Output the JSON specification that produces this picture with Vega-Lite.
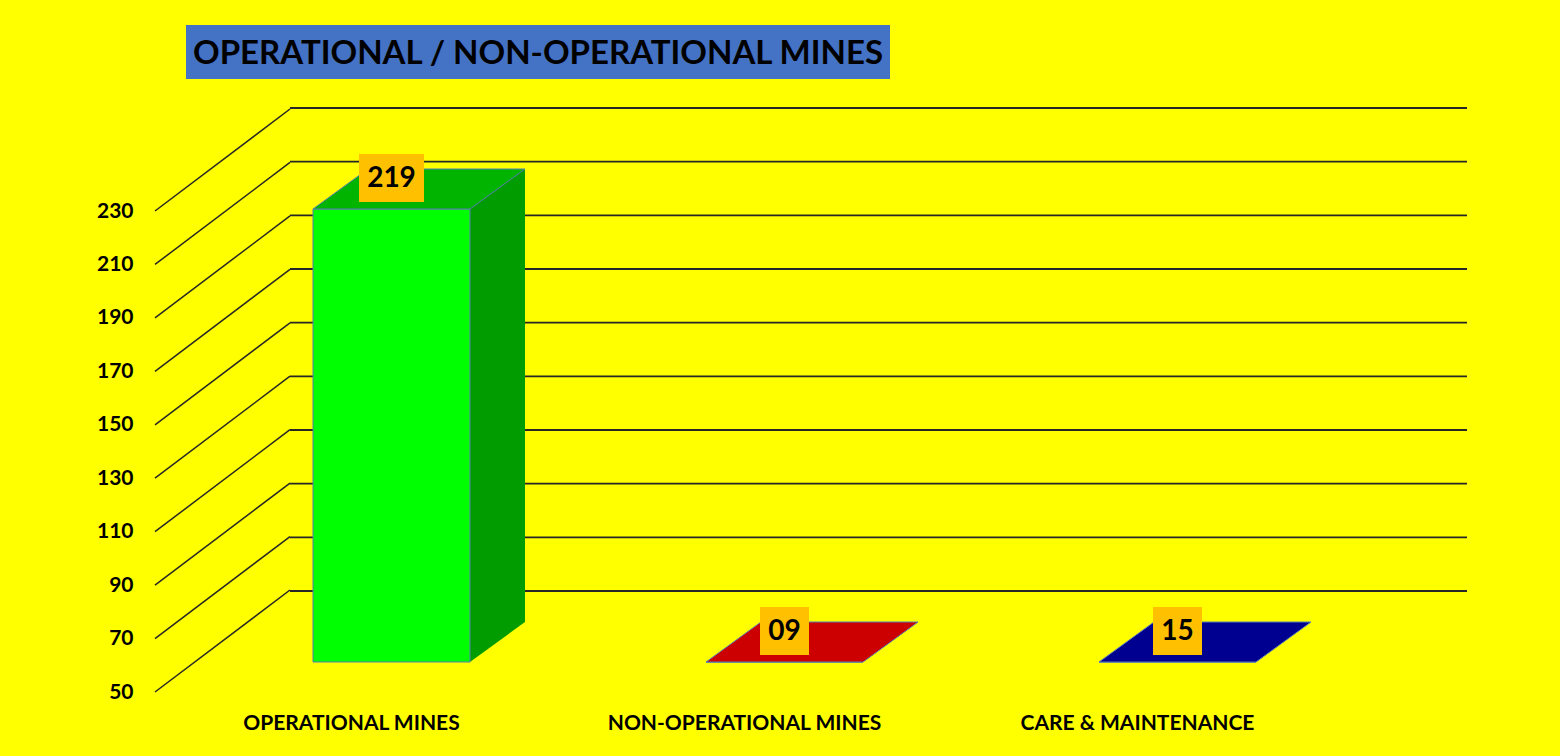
{
  "$schema": "https://vega.github.io/schema/vega-lite/v6.json",
  "background": "#FFFF00",
  "padding": {"left": 96, "top": 25, "right": 93, "bottom": 24},
  "config": {"view": {"stroke": null}, "font": "Lato"},
  "datasets": {
    "mines": [
      {"category": "OPERATIONAL MINES", "value": 219, "label": "219"},
      {"category": "NON-OPERATIONAL MINES", "value": 9, "label": "09"},
      {"category": "CARE & MAINTENANCE", "value": 15, "label": "15"}
    ],
    "ticks": [
      {"v": 50}, {"v": 70}, {"v": 90}, {"v": 110}, {"v": 130},
      {"v": 150}, {"v": 170}, {"v": 190}, {"v": 210}, {"v": 230}
    ]
  },
  "spacing": 29,
  "bounds": "flush",
  "vconcat": [
    {
      "width": 704,
      "height": 54,
      "view": {"fill": "#4472C4", "stroke": null},
      "data": {"values": [{}]},
      "mark": {
        "type": "text",
        "text": "OPERATIONAL / NON-OPERATIONAL MINES",
        "font": "Lato",
        "fontWeight": "bold",
        "fontSize": 33,
        "color": "#000000",
        "align": "center",
        "baseline": "middle",
        "dy": 2
      }
    },
    {
      "width": 1281,
      "height": 584,
      "resolve": {
        "scale": {"x": "independent", "y": "independent"},
        "axis": {"x": "independent", "y": "independent"}
      },
      "layer": [
        {
          "data": {"name": "ticks"},
          "mark": {"type": "rule", "color": "#262626", "strokeWidth": 1.8},
          "encoding": {
            "x": {"datum": 0, "type": "quantitative", "scale": {"domain": [0, 1], "range": [104, 1281]}, "axis": null},
            "x2": {"datum": 1},
            "y": {"field": "v", "type": "quantitative", "scale": {"domain": [50, 230], "range": [483, 0]}, "axis": null}
          }
        },
        {
          "data": {"name": "ticks"},
          "mark": {"type": "point", "shape": "M0,0L135,-102", "size": 4, "filled": false, "stroke": "#262626", "strokeWidth": 1.5, "opacity": 1},
          "encoding": {
            "x": {"datum": 0, "type": "quantitative", "scale": {"domain": [0, 1], "range": [-31, 0]}, "axis": null},
            "y": {
              "field": "v", "type": "quantitative",
              "scale": {"domain": [50, 230], "range": [584, 103]},
              "axis": {
                "values": [50, 70, 90, 110, 130, 150, 170, 190, 210, 230],
                "offset": 50, "labelPadding": 3, "ticks": false, "domain": false, "grid": false, "title": null,
                "labelFont": "Lato", "labelFontWeight": "bold", "labelFontSize": 21, "labelColor": "#000000"
              }
            }
          }
        },
        {
          "data": {"name": "mines"},
          "resolve": {"scale": {"fill": "independent", "shape": "independent"}},
          "encoding": {
            "x": {
              "field": "category", "type": "nominal",
              "scale": {"domain": ["OPERATIONAL MINES", "NON-OPERATIONAL MINES", "CARE & MAINTENANCE"], "range": [9, 1188], "paddingInner": 0, "paddingOuter": 0},
              "axis": {
                "title": null, "ticks": false, "domain": false, "labelAngle": 0, "labelOffset": -40,
                "labelPadding": 31, "labelBaseline": "middle", "labelLimit": 500,
                "labelFont": "Lato", "labelFontWeight": "bold", "labelFontSize": 21, "labelColor": "#000000"
              }
            },
            "y": {
              "field": "value", "type": "quantitative",
              "scale": {"domain": [50, 230], "range": [554, 71.5], "clamp": true, "zero": false, "nice": false},
              "axis": null
            }
          },
          "layer": [
            {
              "mark": {"type": "bar", "width": 157, "xOffset": 55, "yOffset": -40, "y2Offset": -40},
              "encoding": {
                "y2": {"datum": 50},
                "fill": {"field": "category", "type": "nominal", "scale": {"domain": ["OPERATIONAL MINES", "NON-OPERATIONAL MINES", "CARE & MAINTENANCE"], "range": ["#009C00", "#8A0000", "#000060"]}, "legend": null}
              }
            },
            {
              "mark": {"type": "point", "shape": "M78.5,0L133.5,-40L78.5,-40Z", "size": 4, "filled": true, "opacity": 1, "strokeWidth": 0},
              "encoding": {
                "y": {"datum": 50, "type": "quantitative"},
                "fill": {"field": "category", "type": "nominal", "scale": {"domain": ["OPERATIONAL MINES", "NON-OPERATIONAL MINES", "CARE & MAINTENANCE"], "range": ["#009C00", "#8A0000", "#000060"]}, "legend": null}
              }
            },
            {
              "mark": {"type": "bar", "width": 157, "stroke": "#5B7DB1", "strokeWidth": 1},
              "encoding": {
                "y2": {"datum": 50},
                "fill": {"field": "category", "type": "nominal", "scale": {"domain": ["OPERATIONAL MINES", "NON-OPERATIONAL MINES", "CARE & MAINTENANCE"], "range": ["#00FF00", "#CC0000", "#000090"]}, "legend": null}
              }
            },
            {
              "mark": {"type": "point", "shape": "M-78.5,0L78.5,0L133.5,-40L-23.5,-40Z", "size": 4, "filled": true, "opacity": 1, "stroke": "#5B7DB1", "strokeWidth": 1},
              "encoding": {
                "fill": {"field": "category", "type": "nominal", "scale": {"domain": ["OPERATIONAL MINES", "NON-OPERATIONAL MINES", "CARE & MAINTENANCE"], "range": ["#00B400", "#CC0000", "#000090"]}, "legend": null}
              }
            },
            {
              "mark": {"type": "point", "size": 4, "filled": true, "opacity": 1, "strokeWidth": 0, "fill": "#FFC000", "yOffset": -31},
              "encoding": {
                "shape": {"field": "category", "type": "nominal", "scale": {"domain": ["OPERATIONAL MINES", "NON-OPERATIONAL MINES", "CARE & MAINTENANCE"], "range": ["M-32.5,-24L32.5,-24L32.5,24L-32.5,24Z", "M-24.5,-24L24.5,-24L24.5,24L-24.5,24Z", "M-24.5,-24L24.5,-24L24.5,24L-24.5,24Z"]}, "legend": null}
              }
            },
            {
              "mark": {"type": "text", "font": "Lato", "fontWeight": "bold", "fontSize": 28, "color": "#000000", "baseline": "middle", "align": "center", "yOffset": -30},
              "encoding": {"text": {"field": "label"}}
            }
          ]
        }
      ]
    }
  ]
}
